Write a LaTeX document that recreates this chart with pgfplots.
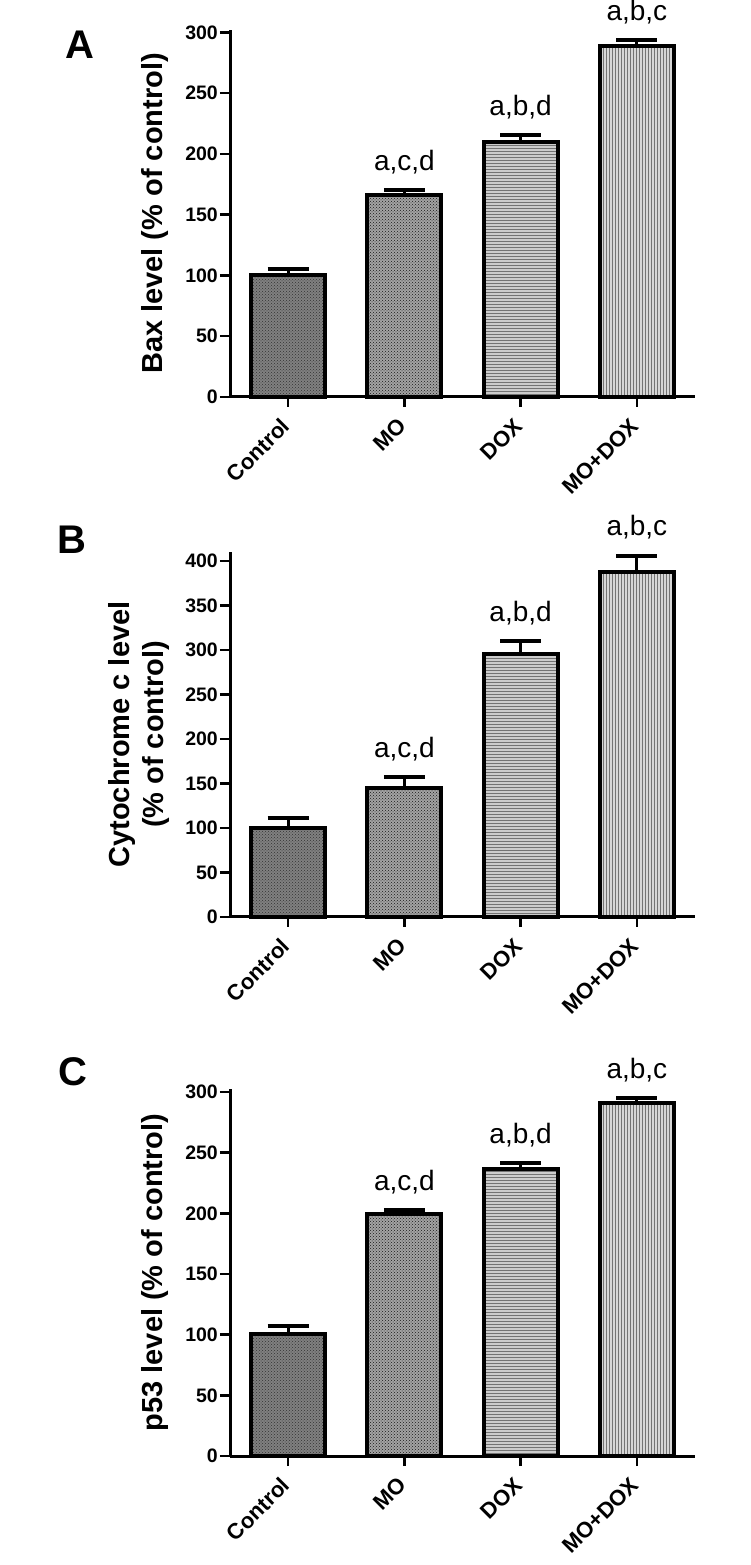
\documentclass[border=0pt]{standalone}
\usepackage{fontspec}
\setmainfont{Liberation Sans}
\usepackage{pgfplots}
\pgfplotsset{compat=1.18}
\usetikzlibrary{patterns}

\tikzset{ann/.style={anchor=base, yshift=20pt, inner sep=0pt, font=\fontsize{28}{28}\selectfont}}
\pgfplotsset{
 gpstyle/.style={
  scale only axis, width=465pt,
  xmin=-0.5, xmax=3.5, ymin=0,
  axis x line=bottom, axis y line=left,
  axis line style={line width=3pt, -},
  tick style={line width=2.5pt, black},
  major tick length=10pt, tick align=outside,
  xtick={0,1,2,3}, xticklabels={Control,MO,DOX,MO+DOX},
  xticklabel style={rotate=45, anchor=east, font=\fontsize{22}{22}\selectfont\bfseries},
  xticklabel shift=13pt,
  yticklabel style={font=\fontsize{19.5}{19.5}\selectfont\bfseries, inner sep=2pt},
  /pgf/number format/assume math mode=true,
  ylabel style={font=\fontsize{29}{34}\selectfont\bfseries, anchor=center, align=center},
  ybar, bar width=74pt, bar shift=0pt,
  clip=false,
 },
 ebar/.style={error bars/.cd, y dir=plus, y explicit,
   error bar style={line width=3pt, black},
   error mark options={rotate=90, mark size=20.5pt, line width=4pt, black}},
 barA/.style={draw=black, line width=4pt, fill=black!50, postaction={pattern=crosshatch dots, pattern color=black!80}, ebar},
 barB/.style={draw=black, line width=4pt, fill=black!36, postaction={pattern=crosshatch dots, pattern color=black!90}, ebar},
 barC/.style={draw=black, line width=4pt, fill=black!20, postaction={pattern=horizontal lines, pattern color=black!55}, ebar},
 barD/.style={draw=black, line width=4pt, fill=black!16, postaction={pattern=vertical lines, pattern color=black!55}, ebar},
}

\begin{document}
\begin{tikzpicture}
\path[use as bounding box] (0,0) rectangle (750pt,1565pt);

% Panel A
\node[font=\fontsize{40}{40}\selectfont\bfseries] at (80pt,1520pt) {A};
\begin{axis}[gpstyle, at={(230pt,1168pt)}, anchor=south west, height=367pt,
  ymax=302, ytick={0,50,...,300},
  ylabel={Bax level (\% of control)},
  ylabel style={at={(axis description cs:-0.161,0.5)}}]
\addplot[barA] coordinates {(0,100) +- (0,5)};
\addplot[barB] coordinates {(1,166) +- (0,4)};
\addplot[barC] coordinates {(2,209.5) +- (0,6)};
\addplot[barD] coordinates {(3,288.5) +- (0,5)};
\node[ann] at (axis cs:1,170) {a,c,d};
\node[ann] at (axis cs:2,215.5) {a,b,d};
\node[ann] at (axis cs:3,293.5) {a,b,c};
\end{axis}

% Panel B
\node[font=\fontsize{40}{40}\selectfont\bfseries] at (72pt,1025pt) {B};
\begin{axis}[gpstyle, at={(230pt,648pt)}, anchor=south west, height=365pt,
  ymax=410, ytick={0,50,...,400},
  ylabel={Cytochrome c level\\(\% of control)},
  ylabel style={at={(axis description cs:-0.195,0.5)}}]
\addplot[barA] coordinates {(0,100) +- (0,11)};
\addplot[barB] coordinates {(1,145) +- (0,12)};
\addplot[barC] coordinates {(2,295) +- (0,15)};
\addplot[barD] coordinates {(3,387.5) +- (0,18)};
\node[ann] at (axis cs:1,157) {a,c,d};
\node[ann] at (axis cs:2,310) {a,b,d};
\node[ann] at (axis cs:3,405.5) {a,b,c};
\end{axis}

% Panel C
\node[font=\fontsize{40}{40}\selectfont\bfseries] at (73pt,493pt) {C};
\begin{axis}[gpstyle, at={(230pt,109pt)}, anchor=south west, height=367pt,
  ymax=302.5, ytick={0,50,...,300},
  ylabel={p53 level (\% of control)},
  ylabel style={at={(axis description cs:-0.161,0.5)}}]
\addplot[barA] coordinates {(0,100.5) +- (0,6.5)};
\addplot[barB] coordinates {(1,199.5) +- (0,3)};
\addplot[barC] coordinates {(2,236.5) +- (0,5)};
\addplot[barD] coordinates {(3,291) +- (0,4)};
\node[ann] at (axis cs:1,202.5) {a,c,d};
\node[ann] at (axis cs:2,241.5) {a,b,d};
\node[ann] at (axis cs:3,295) {a,b,c};
\end{axis}
\end{tikzpicture}
\end{document}
